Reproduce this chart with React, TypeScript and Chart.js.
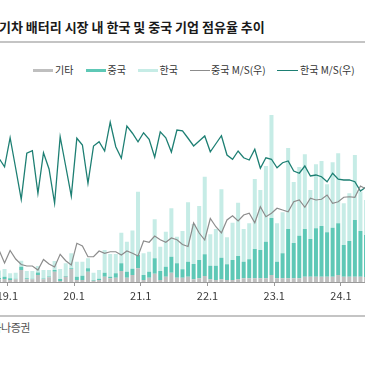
import React, { useEffect, useRef } from 'react';
import { Chart, registerables } from 'chart.js';

Chart.register(...registerables);

const labels = [
  '18.11', '18.12',
  '19.1', '19.2', '19.3', '19.4', '19.5', '19.6', '19.7', '19.8', '19.9', '19.10', '19.11', '19.12',
  '20.1', '20.2', '20.3', '20.4', '20.5', '20.6', '20.7', '20.8', '20.9', '20.10', '20.11', '20.12',
  '21.1', '21.2', '21.3', '21.4', '21.5', '21.6', '21.7', '21.8', '21.9', '21.10', '21.11', '21.12',
  '22.1', '22.2', '22.3', '22.4', '22.5', '22.6', '22.7', '22.8', '22.9', '22.10', '22.11', '22.12',
  '23.1', '23.2', '23.3', '23.4', '23.5', '23.6', '23.7', '23.8', '23.9', '23.10', '23.11', '23.12',
  '24.1', '24.2', '24.3', '24.4', '24.5',
];

// 기타 (GWh)
const etcVol = [
  0.5, 0.6,
  0.4, 0.54, 2.4, 0.54, 0.54, 1.4, 0.54, 0.94, 2.06, 0.2, 1.06, 2.6,
  0.4, 0.4, 2.06, 0.26, 0.4, 1.06, 0.74, 0.86, 2.2, 0.86, 1.4, 2.74,
  0.4, 0.86, 1.66, 0.4, 1.06, 1.86, 0.86, 0.86, 1.06, 0.54, 0.74, 1.2,
  0.54, 0.4, 0.54, 0.4, 0.4, 0.54, 0.74, 0.74, 0.74, 0.74, 0.74, 1.4,
  0.74, 0.74, 0.74, 0.74, 0.74, 1.06, 1.06, 1.06, 1.06, 1.06, 1.06, 1.4,
  1.06, 1.06, 1.06, 1.06, 1.0,
];

// 중국 (GWh)
const chinaVol = [
  0.3, 0.46,
  0.34, 0.1, 0.66, 0.2, 0.1, 0.5, 0.16, 0.16, 0.34, 0.4, 0.14, 0.14,
  0.66, 0.86, 0.68, 0.14, 0.26, 0.8, 0.32, 0.88, 1.54, 1.2, 1.26, 2.66,
  1.0, 1.2, 3.08, 1.8, 2.0, 3.2, 2.88, 1.68, 3.0, 3.06, 3.66, 4.34,
  2.72, 2.86, 4.32, 3.14, 4.0, 4.66, 3.32, 3.8, 5.86, 5.66, 7.32, 11.4,
  3.32, 5.0, 9.86, 7.06, 8.52, 9.54, 7.54, 9.68, 10.14, 8.88, 9.8, 10.34,
  6.34, 7.14, 11.34, 9.14, 8.4,
];

// 한국 (GWh)
const koreaVol = [
  1.5, 1.54,
  1.0, 1.22, 1.2, 1.46, 1.56, 1.3, 1.7, 1.3, 1.8, 2.0, 2.54, 3.0,
  3.0, 2.8, 2.0, 1.46, 1.74, 4.54, 4.54, 3.86, 6.12, 6.0, 7.66, 12.66,
  4.34, 4.0, 7.8, 4.86, 7.0, 9.68, 5.32, 7.66, 11.88, 8.0, 10.8, 15.52,
  6.28, 7.34, 13.68, 5.4, 7.46, 10.66, 6.54, 7.2, 14.0, 12.0, 15.14, 20.6,
  7.68, 8.2, 16.2, 12.2, 13.74, 14.94, 9.8, 12.8, 13.0, 9.6, 13.08, 14.0,
  8.34, 9.54, 13.0, 7.86, 7.0,
];

// 중국 M/S (%, 우)
const chinaShare = [
  12.8, 7.6,
  12.6, 9.2, 7.0, 6.4, 6.4, 4.8, 9.0, 7.2, 6.0, 11.1, 8.5, 6.8,
  15.5, 14.4, 10.1, 10.1, 12.4, 11.5, 12.1, 12.1, 10.8, 12.4, 11.5, 10.4,
  16.4, 15.9, 18.4, 16.9, 15.9, 17.6, 16.9, 15.0, 14.2, 23.6, 19.6, 16.8,
  25.4, 22.1, 19.6, 24.8, 26.5, 24.4, 26.8, 27.5, 23.7, 30.1, 26.1, 27.5,
  29.5, 28.8, 28.1, 32.1, 32.8, 29.9, 33.5, 32.8, 33.1, 34.8, 31.5, 32.1,
  33.9, 34.1, 33.9, 38.4, 37.2,
];

// 한국 M/S (%, 우)
const koreaShare = [
  49.5, 46.1,
  57.7, 45.5, 33.1, 51.5, 52.5, 35.5, 51.7, 45.2, 31.5, 58.1, 46.3, 34.4,
  57.5, 54.8, 39.5, 54.4, 56.1, 52.4, 63.9, 54.1, 49.5, 62.4, 59.5, 56.1,
  59.7, 57.1, 49.9, 60.1, 57.7, 52.0, 60.8, 60.5, 57.5, 54.4, 56.4, 58.4,
  52.1, 55.3, 58.5, 50.8, 49.1, 52.4, 49.7, 48.8, 53.1, 45.5, 49.7, 49.1,
  45.7, 47.7, 48.4, 44.4, 43.5, 46.4, 42.4, 42.8, 42.1, 40.1, 43.5, 41.1,
  40.8, 40.8, 40.1, 36.4, 38.0,
];

const FONT = "'Noto Sans CJK KR', 'Noto Sans', sans-serif";
const isJan = (s?: string) => !!s && s.endsWith('.1');

export default function App() {
  const ref = useRef<HTMLCanvasElement>(null);

  useEffect(() => {
    if (!ref.current) return;
    const chart = new Chart(ref.current, {
      data: {
        labels,
        datasets: [
          { type: 'line', label: '중국 M/S(우)', data: chinaShare, yAxisID: 'y1', borderColor: '#8c8c8c', borderWidth: 1.2, pointRadius: 0, tension: 0, order: 0 },
          { type: 'line', label: '한국 M/S(우)', data: koreaShare, yAxisID: 'y1', borderColor: '#1d7f73', borderWidth: 1.3, pointRadius: 0, tension: 0, order: 0 },
          { type: 'bar', label: '기타', data: etcVol, yAxisID: 'y', backgroundColor: '#bfbfbf', barPercentage: 0.72, categoryPercentage: 1, order: 1 },
          { type: 'bar', label: '중국', data: chinaVol, yAxisID: 'y', backgroundColor: '#5ec8b6', barPercentage: 0.72, categoryPercentage: 1, order: 1 },
          { type: 'bar', label: '한국', data: koreaVol, yAxisID: 'y', backgroundColor: '#c6ece6', barPercentage: 0.72, categoryPercentage: 1, order: 1 },
        ],
      } as any,
      options: {
        responsive: false,
        animation: false,
        devicePixelRatio: 1,
        layout: { padding: 0 },
        plugins: { legend: { display: false }, tooltip: { enabled: false }, title: { display: false } },
        scales: {
          x: {
            stacked: true,
            offset: true,
            grid: {
              offset: true,
              drawOnChartArea: false,
              drawTicks: true,
              tickLength: 4,
              color: (ctx: any) => (isJan(labels[ctx.index]) ? '#9a9a9a' : 'rgba(0,0,0,0)'),
            },
            border: { display: true, color: '#9a9a9a', width: 1 },
            ticks: {
              autoSkip: false,
              maxRotation: 0,
              minRotation: 0,
              padding: 3,
              labelOffset: -2.8,
              color: '#3a3a3a',
              font: { size: 11, family: FONT },
              callback: (_v: any, i: number) => (isJan(labels[i]) ? labels[i] : ''),
            },
            afterFit: (s: any) => { s.height = 30; },
          },
          y: { display: false, stacked: true, min: 0, max: 40 },
          y1: { display: false, position: 'right', min: 0, max: 80 },
        },
      } as any,
    });
    return () => chart.destroy();
  }, []);

  const abs = (o: React.CSSProperties): React.CSSProperties => ({ position: 'absolute', ...o });
  const legText: React.CSSProperties = { fontSize: 10, color: '#333', lineHeight: '12px', whiteSpace: 'nowrap', top: 64 };

  return (
    <div style={{ position: 'fixed', left: 0, top: 0, width: 365, height: 365, overflow: 'hidden', background: '#fff', fontFamily: FONT }}>
      <div style={abs({ left: -13, top: 18, fontSize: 13, fontWeight: 700, letterSpacing: 0, color: '#1a1a1a', lineHeight: '17px', whiteSpace: 'nowrap' })}>
        전기차 배터리 시장 내 한국 및 중국 기업 점유율 추이
      </div>
      <div style={abs({ left: 0, top: 41, width: 365, height: 2, background: '#c4c4c4' })} />

      <div style={abs({ left: 33, top: 68.5, width: 20, height: 3.5, background: '#bfbfbf' })} />
      <div style={abs({ ...legText, left: 55 })}>기타</div>
      <div style={abs({ left: 86, top: 68.5, width: 20, height: 3.5, background: '#5ec8b6' })} />
      <div style={abs({ ...legText, left: 107.5 })}>중국</div>
      <div style={abs({ left: 138, top: 68.5, width: 20, height: 3.5, background: '#c6ece6' })} />
      <div style={abs({ ...legText, left: 159.5 })}>한국</div>
      <div style={abs({ left: 190, top: 69.5, width: 19.5, height: 1.2, background: '#8c8c8c' })} />
      <div style={abs({ ...legText, left: 211 })}>중국 M/S(우)</div>
      <div style={abs({ left: 277, top: 69.5, width: 21, height: 1.3, background: '#1d7f73' })} />
      <div style={abs({ ...legText, left: 300 })}>한국 M/S(우)</div>

      <canvas ref={ref} width={373} height={230} style={abs({ left: -4, top: 82, width: 373, height: 230 })} />

      <div style={abs({ left: 0, top: 315, width: 365, height: 2, background: '#c4c4c4' })} />
      <div style={abs({ left: -8.5, top: 320, fontSize: 11, letterSpacing: -0.5, color: '#555', lineHeight: '14px', whiteSpace: 'nowrap' })}>
        하나증권
      </div>
    </div>
  );
}
